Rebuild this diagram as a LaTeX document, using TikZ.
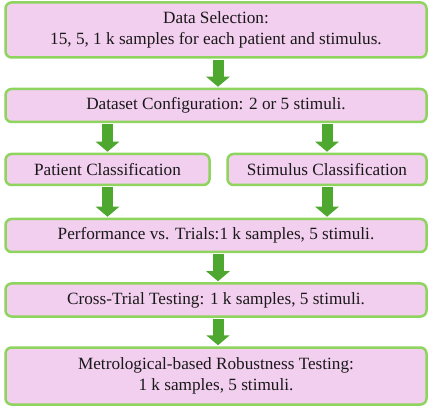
\documentclass[tikz,border=0pt]{standalone}
\usepackage{fontspec}
\setmainfont{Liberation Serif}
\usetikzlibrary{arrows.meta}
\definecolor{boxfill}{HTML}{F2CEEF}
\definecolor{boxline}{HTML}{8ED45E}
\definecolor{arrowgreen}{HTML}{4EA72E}
\begin{document}
\begin{tikzpicture}[x=1pt,y=-1pt,
  stagebox/.style={draw=boxline, fill=boxfill, line width=2.5pt, rounded corners=6pt,
    inner sep=0pt, align=center, font=\fontsize{17.2}{20.5}\selectfont, text=black!90},
  flowarrow/.style={draw=arrowgreen, line width=11pt,
    -{Triangle[width=23pt,length=10pt]}, shorten <=1pt, shorten >=1pt}]
\useasboundingbox (0,0) rectangle (429,409);
\node[stagebox, minimum width=421pt, minimum height=55pt] (sel) at (216,30)
  {Data Selection:\\15, 5, 1 k samples for each patient and stimulus.};
\node[stagebox, minimum width=421pt, minimum height=33pt] (conf) at (216,105.5)
  {Dataset Configuration: 2 or 5 stimuli.};
\node[stagebox, minimum width=204pt, minimum height=31pt] (pat) at (107.5,169.5)
  {Patient Classification};
\node[stagebox, minimum width=199pt, minimum height=31pt] (stim) at (327,169.5)
  {Stimulus Classification};
\node[stagebox, minimum width=421pt, minimum height=33pt] (perf) at (216,235.5)
  {Performance vs. Trials:1 k samples, 5 stimuli.};
\node[stagebox, minimum width=421pt, minimum height=33pt] (cross) at (216,300)
  {Cross-Trial Testing: 1 k samples, 5 stimuli.};
\node[stagebox, minimum width=421pt, minimum height=57pt] (metro) at (216,376)
  {Metrological-based Robustness Testing:\\1 k samples, 5 stimuli.};
\draw[flowarrow] (sel.south -| 218,0) -- (conf.north -| 218,0);
\draw[flowarrow] (conf.south -| pat) -- (pat.north);
\draw[flowarrow] (conf.south -| stim) -- (stim.north);
\draw[flowarrow] (pat.south) -- (perf.north -| pat);
\draw[flowarrow] (stim.south) -- (perf.north -| stim);
\draw[flowarrow] (perf.south -| 218,0) -- (cross.north -| 218,0);
\draw[flowarrow] (cross.south -| 218,0) -- (metro.north -| 218,0);
\end{tikzpicture}
\end{document}
